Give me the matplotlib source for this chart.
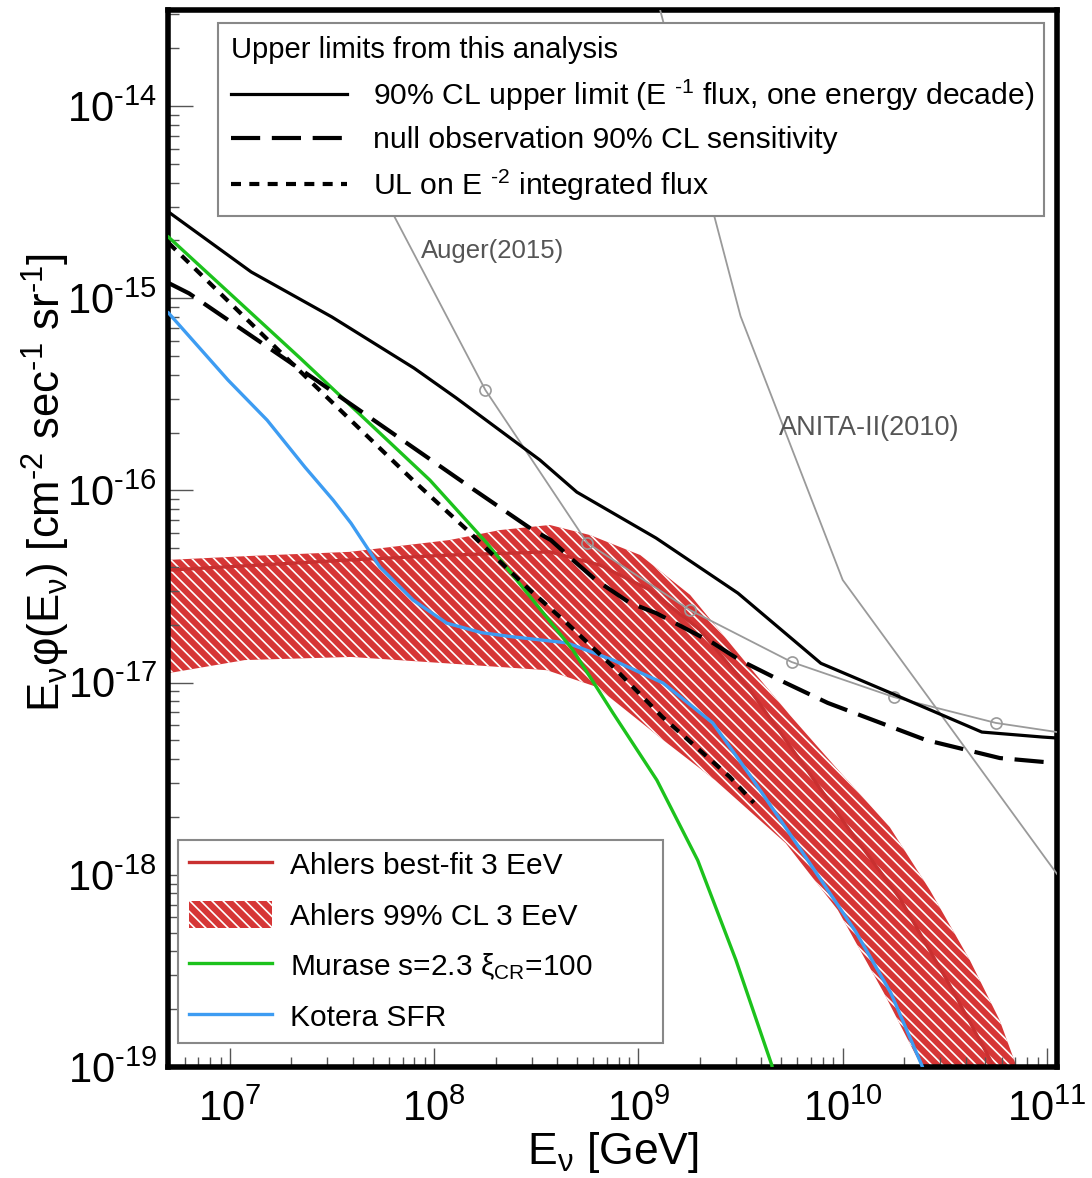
# IceCube EHE upper limits vs. cosmogenic neutrino models
import matplotlib
matplotlib.use('Agg')
import matplotlib.pyplot as plt
from matplotlib.ticker import FuncFormatter
import numpy as np

plt.rcParams['font.family'] = ['Liberation Sans', 'DejaVu Sans']
plt.rcParams['mathtext.fontset'] = 'custom'
plt.rcParams['mathtext.rm'] = 'Liberation Sans'
plt.rcParams['mathtext.it'] = 'Liberation Sans:italic'
plt.rcParams['mathtext.bf'] = 'Liberation Sans:bold'
plt.rcParams['axes.unicode_minus'] = False
plt.rcParams['hatch.linewidth'] = 1.2

# 90% CL upper limit (E^-1 flux, one energy decade)
ul_E = [5.0e6, 1.27e7, 3.16e7, 7.96e7, 1.28e8, 3.29e8, 4.99e8, 1.22e9, 3.07e9,
        7.82e9, 1.72e10, 4.80e10, 9.5e10, 1.12e11]
ul_F = [2.81e-15, 1.37e-15, 7.98e-16, 4.33e-16, 3.03e-16, 1.44e-16, 9.8e-17, 5.65e-17,
        2.92e-17, 1.26e-17, 8.83e-18, 5.53e-18, 5.21e-18, 5.15e-18]

# null observation 90% CL sensitivity
sens_E = [5.0e6, 6.3e6, 2.64e7, 1.50e8, 3.04e8, 3.72e8, 4.77e8, 6.18e8, 9.07e8, 1.22e9,
          2.31e9, 3.13e9, 4.92e9, 8.45e9, 2.55e10, 5.88e10, 9.5e10, 1.12e11]
sens_F = [1.20e-15, 1.06e-15, 3.75e-16, 1.04e-16, 6.22e-17, 5.52e-17, 4.35e-17, 3.42e-17,
          2.60e-17, 2.30e-17, 1.61e-17, 1.31e-17, 1.03e-17, 7.84e-18, 5.03e-18, 4.05e-18,
          3.87e-18, 3.82e-18]

# UL on E^-2 integrated flux
e2_E = [5.0e6, 2.44e7, 7.87e7, 1.45e8, 1.87e8, 2.94e8, 4.46e8, 7.5e8, 1.31e9, 2.80e9, 3.67e9]
e2_F = [1.94e-15, 3.75e-16, 1.13e-16, 6.22e-17, 4.79e-17, 3.03e-17, 2.04e-17, 1.21e-17,
        6.62e-18, 3.23e-18, 2.37e-18]

# Murase s=2.3
mur_E = [5.0e6, 2.20e7, 9.53e7, 1.81e8, 3.04e8, 4.77e8, 7.5e8, 1.23e9, 1.95e9, 3.00e9,
         4.50e9, 4.8e9]
mur_F = [2.08e-15, 4.89e-16, 1.13e-16, 5.32e-17, 2.69e-17, 1.48e-17, 6.95e-18, 3.11e-18,
         1.19e-18, 3.60e-19, 1.02e-19, 6.3e-20]

# Kotera SFR
kot_E = [5.0e6, 7.0e6, 9.78e6, 1.52e7, 2.33e7, 3.2e7, 3.91e7, 5.42e7, 7.87e7, 1.15e8,
         1.7e8, 2.43e8, 4.46e8, 7.5e8, 1.32e9, 2.31e9, 3.51e9, 6.38e9, 1.16e10, 1.72e10,
         2.44e10, 2.6e10]
kot_F = [8.38e-16, 5.6e-16, 3.75e-16, 2.32e-16, 1.32e-16, 8.9e-17, 6.76e-17, 3.99e-17,
         2.69e-17, 2.04e-17, 1.82e-17, 1.73e-17, 1.61e-17, 1.31e-17, 9.95e-18, 6.17e-18,
         3.30e-18, 1.30e-18, 5.04e-19, 2.43e-19, 1.02e-19, 8.5e-20]

# Ahlers 3 EeV: best fit and 99% CL band
ahl_E = [5.0e6, 3.91e7, 1.19e8, 3.68e8, 6.47e8, 1.14e9, 2.0e9, 3.51e9, 6.17e9, 1.08e10,
         1.90e10, 3.34e10, 5.55e10]
ahl_F = [3.85e-17, 4.35e-17, 4.61e-17, 4.79e-17, 4.09e-17, 3.03e-17, 1.88e-17, 9.16e-18,
         3.96e-18, 1.71e-18, 7.57e-19, 2.67e-19, 9.9e-20]
ahl_hi_E = [5.0e6, 1.25e7, 3.86e7, 1.19e8, 2.10e8, 3.68e8, 5.78e8, 1.02e9, 1.79e9, 3.13e9,
            5.51e9, 9.68e9, 1.70e10, 2.67e10, 4.19e10, 5.87e10, 7.11e10]
ahl_hi_F = [4.35e-17, 4.56e-17, 4.79e-17, 5.52e-17, 6.22e-17, 6.61e-17, 5.86e-17, 4.61e-17,
            2.86e-17, 1.39e-17, 6.78e-18, 3.43e-18, 1.77e-18, 8.34e-19, 3.60e-19, 1.75e-19,
            1.0e-19]
ahl_lo_E = [5.0e6, 1.18e7, 3.91e7, 1.15e8, 3.56e8, 6.25e8, 1.32e9, 2.37e9, 5.26e9, 9.46e9,
            1.59e10, 2.44e10]
ahl_lo_F = [1.12e-17, 1.31e-17, 1.36e-17, 1.26e-17, 1.16e-17, 9.49e-18, 5.03e-18, 3.11e-18,
            1.46e-18, 6.56e-19, 2.43e-19, 1.0e-19]

# other experiments
auger_E = [5.62e7, 1.78e8, 5.62e8, 1.78e9, 5.62e9, 1.78e10, 5.62e10, 1.12e11]
auger_F = [3.44e-15, 3.33e-16, 5.32e-17, 2.39e-17, 1.28e-17, 8.41e-18, 6.17e-18, 5.53e-18]
anita_E = [1e9, 3.16e9, 1e10, 3.16e10, 1e11, 1.12e11]
anita_F = [8.5e-14, 8.07e-16, 3.42e-17, 6.4e-18, 1.19e-18, 1.01e-18]

# axis decades
x_decades = [1e7, 1e8, 1e9, 1e10, 1e11]
y_decades = [1e-19, 1e-18, 1e-17, 1e-16, 1e-15, 1e-14]

RED = '#c93030'
GREEN = '#1cc21c'
BLUE = '#3d9cf2'
GREY = '#9a9a9a'
HY = '\u2010'  # short hyphen for exponents, as in the original


def pow10(v, pos):
    e = int(round(np.log10(v)))
    s = str(e).replace('-', HY)
    return r'$\mathdefault{10^{' + s + '}}$'


def sup(s):
    return '$^{' + s.replace('-', HY) + '}$'


fig = plt.figure(figsize=(10.92, 11.78), dpi=100)
ax = fig.add_axes([168/1092, 1 - 1067/1178, (1057 - 168)/1092, (1067 - 10)/1178])
ax.set_xscale('log')
ax.set_yscale('log')

band_x = np.r_[ahl_hi_E, ahl_lo_E[::-1]]
band_y = np.r_[ahl_hi_F, ahl_lo_F[::-1]]
band = ax.fill(band_x, band_y, facecolor='#d63636', edgecolor='white', hatch='\\\\\\',
               linewidth=0, zorder=1, label='Ahlers 99% CL 3 EeV')[0]
best, = ax.plot(ahl_E, ahl_F, color=RED, lw=2.4, zorder=2, label='Ahlers best-fit 3 EeV')

ax.plot(auger_E, auger_F, color=GREY, lw=1.3, marker='o', ms=8, mfc='none', mew=1.2,
        markevery=[1, 2, 3, 4, 5, 6], zorder=3)
ax.plot(anita_E, anita_F, color=GREY, lw=1.3, zorder=3)

kot, = ax.plot(kot_E, kot_F, color=BLUE, lw=2.4, zorder=4, label='Kotera SFR')
mur, = ax.plot(mur_E, mur_F, color=GREEN, lw=2.4, zorder=4,
               label=r'Murase s=2.3 ξ$_{\mathrm{CR}}$=100')

ul, = ax.plot(ul_E, ul_F, color='black', lw=2.3, zorder=4,
              label='90% CL upper limit (E ' + sup('-1') + ' flux, one energy decade)')
sens, = ax.plot(sens_E, sens_F, color='black', lw=3.0, ls=(0, (7, 2.8)), zorder=4,
                label='null observation 90% CL sensitivity')
e2, = ax.plot(e2_E, e2_F, color='black', lw=3.0, ls=(0, (2.4, 2.0)), zorder=4,
              label='UL on E ' + sup('-2') + ' integrated flux')

ax.text(8.6e7, 1.76e-15, 'Auger(2015)', color='#555555', fontsize=18.5, ha='left', va='center')
ax.text(4.9e9, 2.11e-16, 'ANITA-II(2010)', color='#555555', fontsize=19.5, ha='left', va='center')

leg1 = ax.legend(handles=[ul, sens, e2], title='Upper limits from this analysis',
                 alignment='left', loc='upper left', mode='expand',
                 bbox_to_anchor=(0.0562, 0.805, 0.929, 0.1827), borderaxespad=0,
                 fontsize=21.7, title_fontsize=21, handlelength=3.85, handletextpad=0.85,
                 labelspacing=0.45, borderpad=0.43, fancybox=False, framealpha=1,
                 edgecolor='#888888')
leg1.get_frame().set_linewidth(1.5)
ax.add_artist(leg1)

leg2 = ax.legend(handles=[best, band, mur, kot], loc='lower left', mode='expand',
                 bbox_to_anchor=(0.0112, 0.0227, 0.5456, 0.194), borderaxespad=0,
                 fontsize=21.5, handlelength=2.8, handleheight=1.05, handletextpad=0.6,
                 labelspacing=0.68, borderpad=0.36, fancybox=False, framealpha=1,
                 edgecolor='#888888')
leg2.get_frame().set_linewidth(1.5)

for s in ax.spines.values():
    s.set_linewidth(4)

ax.set_xticks(x_decades)
ax.set_yticks(y_decades)
ax.set_xlim(4.97e6, 1.12e11)
ax.set_ylim(1e-19, 3.16e-14)
ax.xaxis.set_major_formatter(FuncFormatter(pow10))
ax.yaxis.set_major_formatter(FuncFormatter(pow10))
ax.tick_params(which='both', direction='in', top=False, right=False, color='#555555',
               width=1.0, labelsize=30)
ax.tick_params(axis='y', which='major', length=18, pad=8)
ax.tick_params(axis='y', which='minor', length=8)
ax.tick_params(axis='x', which='major', length=14, pad=16)
ax.tick_params(axis='x', which='minor', length=7)

ax.set_xlabel(r'E$_{\mathrm{\nu}}$ [GeV]', fontsize=32, labelpad=0)
ax.set_ylabel(r'E$_{\mathrm{\nu}}$φ(E$_{\mathrm{\nu}}$) [cm' + sup('-2') + ' sec' + sup('-1')
              + ' sr' + sup('-1') + ']', fontsize=31.5)
ax.yaxis.set_label_coords(-0.108, 0.553)

fig.savefig('out.png', dpi=100)
